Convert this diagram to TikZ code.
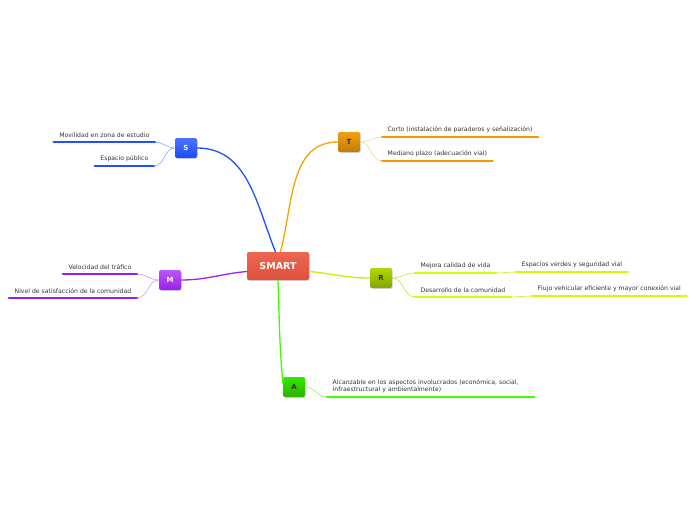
\documentclass[tikz,border=0pt]{standalone}
\usepackage{fontspec}
\setsansfont{DejaVu Sans}
\usetikzlibrary{shadows,calc}
\definecolor{smartRed}{HTML}{EA553E}
\definecolor{sBlue}{HTML}{1F4FFF}
\definecolor{tOrange}{HTML}{F29A00}
\definecolor{rLime}{HTML}{CCFF00}
\definecolor{mPurple}{HTML}{A51FF5}
\definecolor{aGreen}{HTML}{3CFF00}

\begin{document}
\begin{tikzpicture}[
  x=1pt, y=-1pt,
  line cap=round,
  every node/.style={font=\sffamily\fontsize{6.15}{7.2}\selectfont, text=black!80},
  topic/.style={rounded corners=2pt, minimum width=22, minimum height=20,
    inner sep=0pt, drop shadow={opacity=0.3, shadow xshift=0.8pt, shadow yshift=-0.8pt},
    font=\sffamily\bfseries\fontsize{7}{8}\selectfont},
  leaf/.style={inner xsep=5.5pt, inner ysep=4.5pt},
  twig/.style={line width=0.5pt},
  bar/.style={line width=2.7pt}
]
  \useasboundingbox (0,0) rectangle (696,520);

  % Central topic
  \node[topic, minimum width=62, minimum height=28, top color=smartRed!90!white,
    bottom color=smartRed!95!black, text=white, font=\sffamily\bfseries\fontsize{9.5}{11}\selectfont]
    (smart) at (278,266) {SMART};

  % Main topics
  \node[topic, top color=sBlue!80!white, bottom color=sBlue!95!black, text=white] (s) at (186,148) {S};
  \node[topic, top color=tOrange!95!white, bottom color=tOrange!80!black] (t) at (349,142) {T};
  \node[topic, top color=rLime!85!black, bottom color=rLime!65!black] (r) at (381,278) {R};
  \node[topic, top color=mPurple!75!white, bottom color=mPurple!95!black, text=white] (m) at (170,280) {M};
  \node[topic, top color=aGreen!90!black, bottom color=aGreen!70!black] (a) at (294,387) {A};

  % Branches from SMART
  \draw[sBlue, line width=1.3pt] (smart.100) to[out=112, in=0] (s.east);
  \draw[tOrange!90!yellow, line width=1.3pt] (smart.80) to[out=75, in=180] (t.west);
  \draw[rLime!95!black, line width=1.3pt] (smart.-10) to[out=-5, in=180] (r.west);
  \draw[mPurple, line width=1.3pt] (smart.190) to[out=185, in=0] (m.east);
  \draw[aGreen, line width=1.3pt] (smart.south) to[out=-88, in=95] (a.160);

  % S subtopics
  \node[leaf, anchor=south east] (s1) at (155,142) {Movilidad en zona de estudio};
  \node[leaf, anchor=south east] (s2) at (154,166) {Espacio público};
  \foreach \n in {s1,s2} {
    \draw[bar, sBlue] (\n.south west) -- (\n.south east);
    \draw[twig, sBlue!60!white] (s.west) to[out=180, in=0] (\n.south east);
  }

  % T subtopics
  \node[leaf, anchor=south west] (t1) at (382,137) {Corto (instalación de paraderos y señalización)};
  \node[leaf, anchor=south west] (t2) at (382,161) {Mediano plazo (adecuación vial)};
  \foreach \n in {t1,t2} {
    \draw[bar, tOrange] (\n.south west) -- (\n.south east);
    \draw[twig, tOrange!50!white] (t.east) to[out=0, in=180] (\n.south west);
  }

  % R subtopics
  \node[leaf, anchor=south west] (r1) at (415,273) {Mejora calidad de vida};
  \node[leaf, anchor=south west] (r2) at (415,297) {Desarrollo de la comunidad};
  \node[leaf, anchor=south west] (r11) at (516,272) {Espacios verdes y seguridad vial};
  \node[leaf, anchor=south west] (r21) at (532,296) {Flujo vehicular eficiente y mayor conexión vial};
  \foreach \n in {r1,r2,r11,r21}
    \draw[bar, rLime] (\n.south west) -- (\n.south east);
  \draw[twig, rLime!90!black] (r.east) to[out=0, in=180] (r1.south west);
  \draw[twig, rLime!90!black] (r.east) to[out=0, in=180] (r2.south west);
  \draw[twig, rLime!90!black] (r1.south east) to[out=0, in=180] (r11.south west);
  \draw[twig, rLime!90!black] (r2.south east) to[out=0, in=180] (r21.south west);

  % M subtopics
  \node[leaf, anchor=south east] (m1) at (137,274) {Velocidad del tráfico};
  \node[leaf, anchor=south east] (m2) at (137,298) {Nivel de satisfacción de la comunidad};
  \foreach \n in {m1,m2} {
    \draw[bar, mPurple!90!blue] (\n.south west) -- (\n.south east);
    \draw[twig, mPurple!55!white] (m.west) to[out=180, in=0] (\n.south east);
  }

  % A subtopic
  \node[leaf, anchor=south west, text width=196, align=left, inner ysep=4pt] (a1) at (327,397)
    {Alcanzable en los aspectos involucrados (económica, social,\\infraestructural y ambientalmente)};
  \draw[bar, aGreen] (a1.south west) -- (a1.south east);
  \draw[twig, aGreen!70!white] (a.east) to[out=0, in=180] (a1.south west);
\end{tikzpicture}
\end{document}
